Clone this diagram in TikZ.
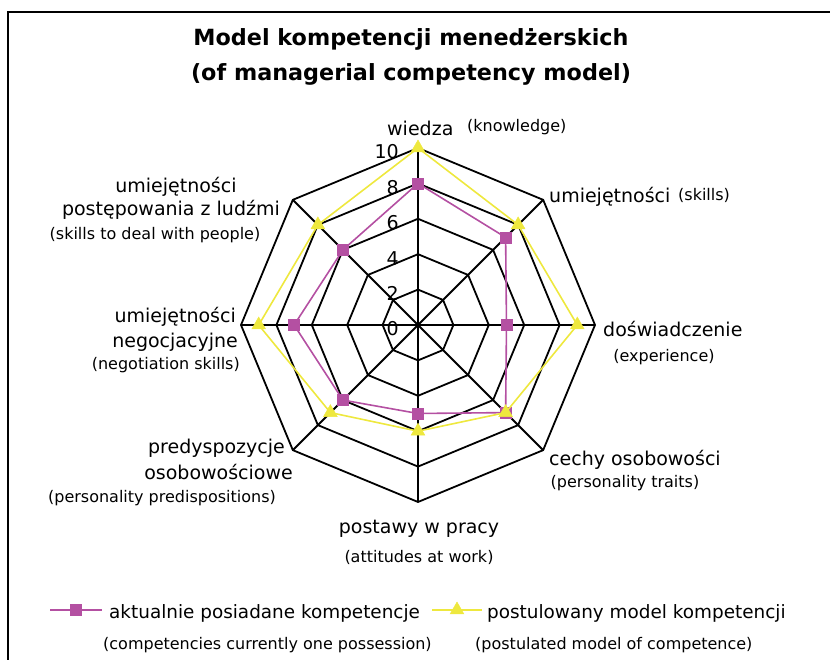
\documentclass[tikz,border=0pt]{standalone}
\usepackage{fontspec}
\setmainfont{DejaVu Sans}
\usetikzlibrary{shapes.geometric}
\definecolor{aktualny}{RGB}{180,80,162}
\definecolor{postulat}{RGB}{238,232,62}
\tikzset{
  siatka/.style={black, line width=1.8pt, line join=miter},
  seria/.style={line width=1.6pt, line join=round},
  kwadrat/.style={rectangle, draw=aktualny, fill=aktualny, minimum size=11pt, inner sep=0pt},
  trojkat/.style={regular polygon, regular polygon sides=3, draw=postulat, fill=postulat, minimum size=16pt, inner sep=0pt},
  etykieta/.style={font=\fontsize{19}{22}\selectfont, inner sep=0pt},
  legenda/.style={font=\fontsize{18.4}{22}\selectfont, inner sep=0pt},
  opis/.style={font=\fontsize{16}{18}\selectfont, inner sep=0pt},
  skala/.style={font=\fontsize{19}{20}\selectfont, inner sep=0pt, anchor=east},
}
\def\jedn{17.7}
\begin{document}
\begin{tikzpicture}[x=1pt, y=1pt]
  \useasboundingbox (0,0) rectangle (830,660);
  \draw[line width=2pt] (8,0) -- (8,648) -- (830,648);
  \node[font=\bfseries\fontsize{22.3}{35}\selectfont, align=center] (tytul) at (411,603)
    {Model kompetencji menedżerskich\\(of managerial competency model)};

  \begin{scope}[shift={(418,335)}]
    \coordinate (srodek) at (0,0);
    \foreach \r in {2,4,6,8,10}
      \draw[siatka] (90:{\r*\jedn}) \foreach \a in {45,0,...,-225}{ -- (\a:{\r*\jedn})} -- cycle;
    \foreach \a in {90,45,...,-225}
      \draw[siatka] (srodek) -- (\a:{10*\jedn});
    \foreach \r in {0,2,...,10}
      \node[skala] (skala-\r) at (-19,{\r*\jedn-4}) {\r};

    % dane
    \foreach \v [count=\i] in {8,7,5,7,5,6,7,6}
      \coordinate (akt-\i) at ({135-45*\i}:{\v*\jedn});
    \foreach \v [count=\i] in {10,8,9,7,6,7,9,8}
      \coordinate (post-\i) at ({135-45*\i}:{\v*\jedn});
    \draw[aktualny, seria] (akt-1) \foreach \i in {2,...,8}{ -- (akt-\i)} -- cycle;
    \foreach \i in {1,...,8}
      \node[kwadrat] (kw-\i) at (akt-\i) {};
    \draw[postulat, seria] (post-1) \foreach \i in {2,...,8}{ -- (post-\i)} -- cycle;
    \foreach \i in {1,...,8}
      \node[trojkat] (tr-\i) at (post-\i) {};
  \end{scope}

  \node[etykieta, anchor=west] (wiedza) at (387,532) {wiedza};
  \node[opis, anchor=west] (wiedza-en) at (467,533) {(knowledge)};
  \node[etykieta, anchor=west] (umiej) at (549,463) {umiejętności};
  \node[opis, anchor=west] (umiej-en) at (678,465) {(skills)};
  \node[etykieta, anchor=west] (dosw) at (603,331) {doświadczenie};
  \node[opis] (dosw-en) at (664,303) {(experience)};
  \node[etykieta, anchor=west] (cechy) at (549,200) {cechy osobowości};
  \node[opis] (cechy-en) at (625,177) {(personality traits)};
  \node[etykieta] (postawy) at (419,131) {postawy w pracy};
  \node[opis] (postawy-en) at (419,103) {(attitudes at work)};
  \node[etykieta, anchor=east] (pred-1) at (285,212) {predyspozycje};
  \node[etykieta, anchor=east] (pred-2) at (293,188) {osobowościowe};
  \node[opis] (pred-en) at (162,162) {(personality predispositions)};
  \node[etykieta, anchor=east] (neg-1) at (236,343) {umiejętności};
  \node[etykieta, anchor=east] (neg-2) at (238,318) {negocjacyjne};
  \node[opis, anchor=east] (neg-en) at (240,295) {(negotiation skills)};
  \node[etykieta] (ludzie-1) at (176,473) {umiejętności};
  \node[etykieta, anchor=east] (ludzie-2) at (280,450) {postępowania z ludźmi};
  \node[opis] (ludzie-en) at (155,425) {(skills to deal with people)};

  % legenda
  \coordinate (leg-a1) at (50,50);
  \coordinate (leg-a2) at (102,50);
  \draw[aktualny, seria] (leg-a1) -- (leg-a2);
  \node[kwadrat] (leg-kw) at (76,50) {};
  \node[legenda, anchor=west] (leg-akt) at (109,47) {aktualnie posiadane kompetencje};
  \coordinate (leg-p1) at (432,50);
  \coordinate (leg-p2) at (482,50);
  \draw[postulat, seria] (leg-p1) -- (leg-p2);
  \node[trojkat] (leg-tr) at (457,50) {};
  \node[legenda, anchor=west] (leg-post) at (487,47) {postulowany model kompetencji};
  \node[opis, anchor=west] (leg-akt-en) at (103,15) {(competencies currently one possession)};
  \node[opis, anchor=west] (leg-post-en) at (475,15) {(postulated model of competence)};
\end{tikzpicture}
\end{document}
